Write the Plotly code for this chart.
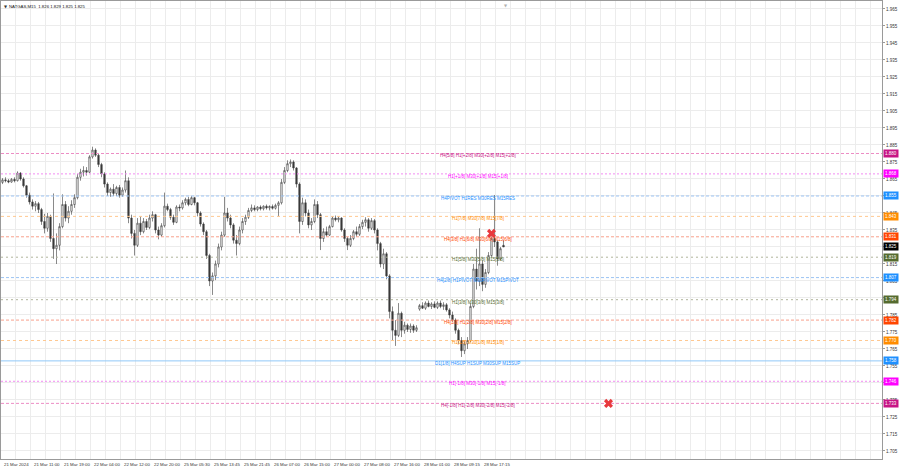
import plotly.graph_objects as go

# ---------------- data ----------------
bar_open = [
    1.8630, 1.8645, 1.8640, 1.8632, 1.8648, 1.8640, 1.8685, 1.8650, 1.8610, 1.8555,
    1.8515, 1.8490, 1.8505, 1.8470, 1.8400, 1.8360, 1.8430, 1.8300, 1.8240, 1.8260,
    1.8370, 1.8500, 1.8420, 1.8460, 1.8500, 1.8540, 1.8660, 1.8690, 1.8700, 1.8690,
    1.8780, 1.8820, 1.8790, 1.8735, 1.8680, 1.8620, 1.8570, 1.8590, 1.8565, 1.8600,
    1.8555, 1.8585, 1.8640, 1.8420, 1.8330, 1.8260, 1.8390, 1.8340, 1.8400, 1.8365,
    1.8420, 1.8440, 1.8350, 1.8320, 1.8375, 1.8490, 1.8470, 1.8425, 1.8395, 1.8485,
    1.8480, 1.8510, 1.8530, 1.8500, 1.8540, 1.8510, 1.8450, 1.8385, 1.8340, 1.8200,
    1.8050, 1.8080, 1.8150, 1.8250, 1.8320, 1.8450, 1.8420, 1.8380, 1.8290, 1.8270,
    1.8350, 1.8400, 1.8425, 1.8465, 1.8480, 1.8470, 1.8485, 1.8475, 1.8490, 1.8480,
    1.8488, 1.8478, 1.8495, 1.8510, 1.8630, 1.8700, 1.8740, 1.8750, 1.8715, 1.8620,
    1.8400, 1.8510, 1.8450, 1.8380, 1.8400, 1.8500, 1.8440, 1.8300, 1.8340, 1.8320,
    1.8370, 1.8420, 1.8410, 1.8420, 1.8350, 1.8300, 1.8260, 1.8300, 1.8340, 1.8325,
    1.8370, 1.8395, 1.8410, 1.8360, 1.8405, 1.8350, 1.8270, 1.8150, 1.8210, 1.8080,
    1.7870, 1.7760, 1.7730, 1.7860, 1.7760, 1.7790, 1.7765, 1.7785, 1.7760, 1.7885,
    1.7905, 1.7890, 1.7920, 1.7900, 1.7915, 1.7895, 1.7920, 1.7900, 1.7910, 1.7880,
    1.7850, 1.7820, 1.7760, 1.7700, 1.7640, 1.7680, 1.7700, 1.7900, 1.8120, 1.8050,
    1.8150, 1.8030, 1.8100, 1.8200, 1.8300, 1.8280, 1.8180, 1.8260,
]
bar_high = [
    1.8655, 1.8660, 1.8650, 1.8655, 1.8660, 1.8695, 1.8690, 1.8660, 1.8615, 1.8570,
    1.8530, 1.8520, 1.8515, 1.8480, 1.8445, 1.8450, 1.8440, 1.8565, 1.8330, 1.8390,
    1.8560, 1.8520, 1.8490, 1.8525, 1.8560, 1.8680, 1.8710, 1.8725, 1.8720, 1.8790,
    1.8840, 1.8830, 1.8800, 1.8745, 1.8690, 1.8630, 1.8600, 1.8620, 1.8610, 1.8615,
    1.8600, 1.8700, 1.8660, 1.8440, 1.8350, 1.8420, 1.8430, 1.8420, 1.8415, 1.8440,
    1.8460, 1.8445, 1.8370, 1.8390, 1.8570, 1.8505, 1.8480, 1.8440, 1.8495, 1.8500,
    1.8525, 1.8540, 1.8545, 1.8550, 1.8545, 1.8515, 1.8460, 1.8395, 1.8350, 1.8210,
    1.8100, 1.8170, 1.8270, 1.8340, 1.8545, 1.8480, 1.8440, 1.8390, 1.8320, 1.8370,
    1.8420, 1.8440, 1.8480, 1.8500, 1.8495, 1.8490, 1.8495, 1.8495, 1.8500, 1.8495,
    1.8500, 1.8505, 1.8520, 1.8650, 1.8720, 1.8760, 1.8765, 1.8760, 1.8720, 1.8630,
    1.8540, 1.8530, 1.8470, 1.8420, 1.8530, 1.8520, 1.8450, 1.8360, 1.8370, 1.8380,
    1.8430, 1.8435, 1.8430, 1.8425, 1.8360, 1.8310, 1.8320, 1.8350, 1.8370, 1.8385,
    1.8410, 1.8425, 1.8420, 1.8420, 1.8415, 1.8360, 1.8280, 1.8240, 1.8220, 1.8090,
    1.7900, 1.7820, 1.7920, 1.7870, 1.7810, 1.7800, 1.7800, 1.7795, 1.7790, 1.7915,
    1.7925, 1.7930, 1.7935, 1.7925, 1.7930, 1.7930, 1.7935, 1.7925, 1.7920, 1.7890,
    1.7870, 1.7830, 1.7770, 1.7720, 1.7700, 1.7720, 1.7920, 1.8150, 1.8240, 1.8360,
    1.8170, 1.8120, 1.8220, 1.8330, 1.8556, 1.8290, 1.8250, 1.8290,
]
bar_low = [
    1.8620, 1.8630, 1.8625, 1.8628, 1.8630, 1.8635, 1.8640, 1.8600, 1.8540, 1.8500,
    1.8470, 1.8460, 1.8450, 1.8380, 1.8330, 1.8340, 1.8280, 1.8180, 1.8150, 1.8230,
    1.8360, 1.8400, 1.8390, 1.8440, 1.8480, 1.8530, 1.8640, 1.8665, 1.8670, 1.8685,
    1.8770, 1.8780, 1.8720, 1.8660, 1.8600, 1.8550, 1.8545, 1.8550, 1.8550, 1.8540,
    1.8545, 1.8570, 1.8390, 1.8300, 1.8200, 1.8250, 1.8320, 1.8330, 1.8350, 1.8355,
    1.8400, 1.8330, 1.8295, 1.8310, 1.8365, 1.8460, 1.8410, 1.8380, 1.8390, 1.8460,
    1.8470, 1.8495, 1.8490, 1.8495, 1.8495, 1.8430, 1.8370, 1.8320, 1.8180, 1.8020,
    1.7968, 1.8055, 1.8130, 1.8230, 1.8310, 1.8400, 1.8360, 1.8270, 1.8200, 1.8260,
    1.8330, 1.8380, 1.8415, 1.8455, 1.8460, 1.8460, 1.8465, 1.8465, 1.8470, 1.8465,
    1.8470, 1.8470, 1.8430, 1.8500, 1.8620, 1.8690, 1.8720, 1.8700, 1.8600, 1.8330,
    1.8380, 1.8430, 1.8360, 1.8350, 1.8390, 1.8420, 1.8232, 1.8280, 1.8310, 1.8315,
    1.8365, 1.8400, 1.8395, 1.8340, 1.8280, 1.8232, 1.8250, 1.8290, 1.8310, 1.8315,
    1.8355, 1.8370, 1.8340, 1.8350, 1.8330, 1.8230, 1.8130, 1.8120, 1.8060, 1.7830,
    1.7700, 1.7668, 1.7720, 1.7720, 1.7740, 1.7750, 1.7745, 1.7745, 1.7750, 1.7875,
    1.7885, 1.7880, 1.7895, 1.7885, 1.7890, 1.7885, 1.7890, 1.7880, 1.7870, 1.7830,
    1.7810, 1.7740, 1.7680, 1.7603, 1.7620, 1.7650, 1.7690, 1.7890, 1.8000, 1.8020,
    1.7990, 1.8010, 1.8090, 1.8190, 1.8250, 1.8140, 1.8170, 1.8250,
]
bar_close = [
    1.8645, 1.8640, 1.8632, 1.8648, 1.8640, 1.8685, 1.8650, 1.8610, 1.8555, 1.8515,
    1.8490, 1.8505, 1.8470, 1.8400, 1.8360, 1.8430, 1.8300, 1.8240, 1.8260, 1.8370,
    1.8500, 1.8420, 1.8460, 1.8500, 1.8540, 1.8660, 1.8690, 1.8700, 1.8690, 1.8780,
    1.8820, 1.8790, 1.8735, 1.8680, 1.8620, 1.8570, 1.8590, 1.8565, 1.8600, 1.8555,
    1.8585, 1.8640, 1.8420, 1.8330, 1.8260, 1.8390, 1.8340, 1.8400, 1.8365, 1.8420,
    1.8440, 1.8350, 1.8320, 1.8375, 1.8490, 1.8470, 1.8425, 1.8395, 1.8485, 1.8480,
    1.8510, 1.8530, 1.8500, 1.8540, 1.8510, 1.8450, 1.8385, 1.8340, 1.8200, 1.8050,
    1.8080, 1.8150, 1.8250, 1.8320, 1.8450, 1.8420, 1.8380, 1.8290, 1.8270, 1.8350,
    1.8400, 1.8425, 1.8465, 1.8480, 1.8470, 1.8485, 1.8475, 1.8490, 1.8480, 1.8488,
    1.8478, 1.8495, 1.8510, 1.8630, 1.8700, 1.8740, 1.8750, 1.8715, 1.8620, 1.8400,
    1.8510, 1.8450, 1.8380, 1.8400, 1.8500, 1.8440, 1.8300, 1.8340, 1.8320, 1.8370,
    1.8420, 1.8410, 1.8420, 1.8350, 1.8300, 1.8260, 1.8300, 1.8340, 1.8325, 1.8370,
    1.8395, 1.8410, 1.8360, 1.8405, 1.8350, 1.8270, 1.8150, 1.8210, 1.8080, 1.7870,
    1.7760, 1.7730, 1.7860, 1.7760, 1.7790, 1.7765, 1.7785, 1.7760, 1.7775, 1.7905,
    1.7890, 1.7920, 1.7900, 1.7915, 1.7895, 1.7920, 1.7900, 1.7910, 1.7880, 1.7850,
    1.7820, 1.7760, 1.7700, 1.7640, 1.7680, 1.7700, 1.7900, 1.8120, 1.8050, 1.8150,
    1.8030, 1.8100, 1.8200, 1.8300, 1.8280, 1.8180, 1.8240, 1.8250,
]

time_labels = [
    "21 Mar 2024", "21 Mar 11:00", "21 Mar 19:00", "22 Mar 04:00", "22 Mar 12:00",
    "22 Mar 20:00", "25 Mar 05:30", "25 Mar 13:45", "25 Mar 21:45", "26 Mar 07:00",
    "26 Mar 15:00", "27 Mar 00:00", "27 Mar 08:00", "27 Mar 16:00", "28 Mar 01:00",
    "28 Mar 09:15", "28 Mar 17:15",
]
bars_per_label = 10

level_prices = [1.880, 1.868, 1.855, 1.843, 1.831, 1.819, 1.807, 1.794, 1.782, 1.770, 1.758, 1.746, 1.733]
level_texts = [
    "H4[5/8] H1[+2/8] M30[+2/8] M15[+2/8]",
    "H1[+1/8] M30[+1/8] M15[+1/8]",
    "H4PIVOT H1RES M30RES M15RES",
    "H1[7/8] M30[7/8] M15[7/8]",
    "H4[3/8] H1[6/8] M30[6/8] M15[6/8]",
    "H1[5/8] M30[5/8] M15[5/8]",
    "H4[2/8] H1PIVOT M30PIVOT M15PIVOT",
    "H1[3/8] M30[3/8] M15[3/8]",
    "H4[1/8] H1[2/8] M30[2/8] M15[2/8]",
    "H1[1/8] M30[1/8] M15[1/8]",
    "D1[1/8] H4SUP H1SUP M30SUP M15SUP",
    "H1[-1/8] M30[-1/8] M15[-1/8]",
    "H4[-1/8] H1[-2/8] M30[-2/8] M15[-2/8]",
]
level_colors = ["#C71585", "#FF00FF", "#1E90FF", "#FF8C00", "#FF4500", "#556B2F", "#1E90FF",
                "#556B2F", "#FF4500", "#FF8C00", "#1E90FF", "#FF00FF", "#C71585"]
line_colors = ["#EC8CC4", "#F28CF2", "#9CC4F4", "#FFC890", "#F8A08C", "#B0B49C", "#9CC4F4",
               "#B0B49C", "#F8A08C", "#FFC890", "#90C8F8", "#F28CF2", "#EC8CC4"]
level_dash = ["3px,2px", "2px,2px", "3px,2px", "3px,3px", "3px,2px", "2px,3px", "3px,2px",
              "2px,3px", "3px,2px", "3px,3px", "solid", "2px,2px", "3px,2px"]

current_price = 1.825
title_text = "NATGAS,M15  1.826 1.829 1.825 1.825"

mark_idx = [163, 202]
mark_price = [1.833, 1.733]

y_ticks = [round(1.705 + 0.01 * k, 3) for k in range(27)]

# ---------------- figure ----------------
n = len(bar_close)
x_idx = list(range(n))
X_RANGE = [-0.5, 293.17]
FONT = "Liberation Sans, Arial, sans-serif"

fig = go.Figure()

for p, c, d in zip(level_prices, line_colors, level_dash):
    fig.add_trace(go.Scatter(x=X_RANGE, y=[p, p], mode="lines",
                             line=dict(color=c, width=1, dash=d),
                             showlegend=False, hoverinfo="skip"))

fig.add_trace(go.Candlestick(
    x=x_idx, open=bar_open, high=bar_high, low=bar_low, close=bar_close,
    increasing=dict(line=dict(color="#3a3a3a", width=0.6), fillcolor="#ffffff"),
    decreasing=dict(line=dict(color="#3a3a3a", width=0.6), fillcolor="#3a3a3a"),
    whiskerwidth=0, showlegend=False, hoverinfo="skip",
))

fig.add_trace(go.Scatter(
    x=mark_idx, y=mark_price, mode="markers",
    marker=dict(symbol="x", size=8, color="#E8383D", line=dict(width=0)),
    showlegend=False, hoverinfo="skip",
))

annotations = []
for p, t, c in zip(level_prices, level_texts, level_colors):
    annotations.append(dict(x=158.5, y=p, xref="x", yref="y", text=t, showarrow=False,
                            font=dict(family=FONT, size=4.5, color=c), yshift=-2.5,
                            xanchor="center", yanchor="middle"))
box_prices = level_prices + [current_price]
box_colors = level_colors + ["#000000"]
for p, c in zip(box_prices, box_colors):
    annotations.append(dict(x=1, y=p, xref="paper", yref="y", text=f"{p:.3f}", showarrow=False,
                            font=dict(family=FONT, size=4.5, color="#ffffff"), bgcolor=c,
                            borderpad=1, xanchor="left", yanchor="middle", xshift=1))
for k, lab in enumerate(time_labels):
    annotations.append(dict(x=k * bars_per_label - 0.3, y=0, xref="x", yref="paper", text=lab,
                            showarrow=False, font=dict(family=FONT, size=4.4, color="#333333"),
                            xanchor="left", yanchor="top", yshift=-1))
annotations.append(dict(x=0, y=1, xref="paper", yref="paper", text="\u25BC", showarrow=False,
                        font=dict(family="DejaVu Sans", size=4, color="#333333"),
                        xanchor="left", yanchor="top", xshift=1, yshift=-1))
annotations.append(dict(x=0, y=1, xref="paper", yref="paper", text=title_text, showarrow=False,
                        font=dict(family=FONT, size=4.3, color="#111111"),
                        xanchor="left", yanchor="top", xshift=6, yshift=-1))
annotations.append(dict(x=n - 0.2, y=1, xref="x", yref="paper", text="\u25BC", showarrow=False,
                        font=dict(family="DejaVu Sans", size=4, color="#b0b0b0"),
                        xanchor="center", yanchor="top"))

fig.update_layout(
    width=900, height=468,
    margin=dict(l=1, r=18, t=1, b=9),
    paper_bgcolor="#ffffff", plot_bgcolor="#ffffff",
    annotations=annotations,
    xaxis=dict(range=X_RANGE, rangeslider=dict(visible=False),
               tick0=-0.6, dtick=5, tickmode="linear", showticklabels=False,
               showgrid=True, gridcolor="#ececec", gridwidth=1, zeroline=False,
               showline=True, linecolor="#9a9a9a", linewidth=1, mirror=True, ticks=""),
    yaxis=dict(range=[1.70029, 1.9697], side="right", tickmode="array", tickvals=y_ticks,
               ticktext=[f"{v:.3f}" for v in y_ticks],
               tickfont=dict(family=FONT, size=4.5, color="#333333"),
               showgrid=True, gridcolor="#ececec", gridwidth=1, zeroline=False,
               showline=True, linecolor="#9a9a9a", linewidth=1, mirror=True,
               ticks="outside", ticklen=2, tickcolor="#9a9a9a"),
    font=dict(family=FONT),
)

fig.write_html("out.html", config={"displayModeBar": False},
               post_script="document.body.style.margin='0';document.body.style.overflow='hidden';")
